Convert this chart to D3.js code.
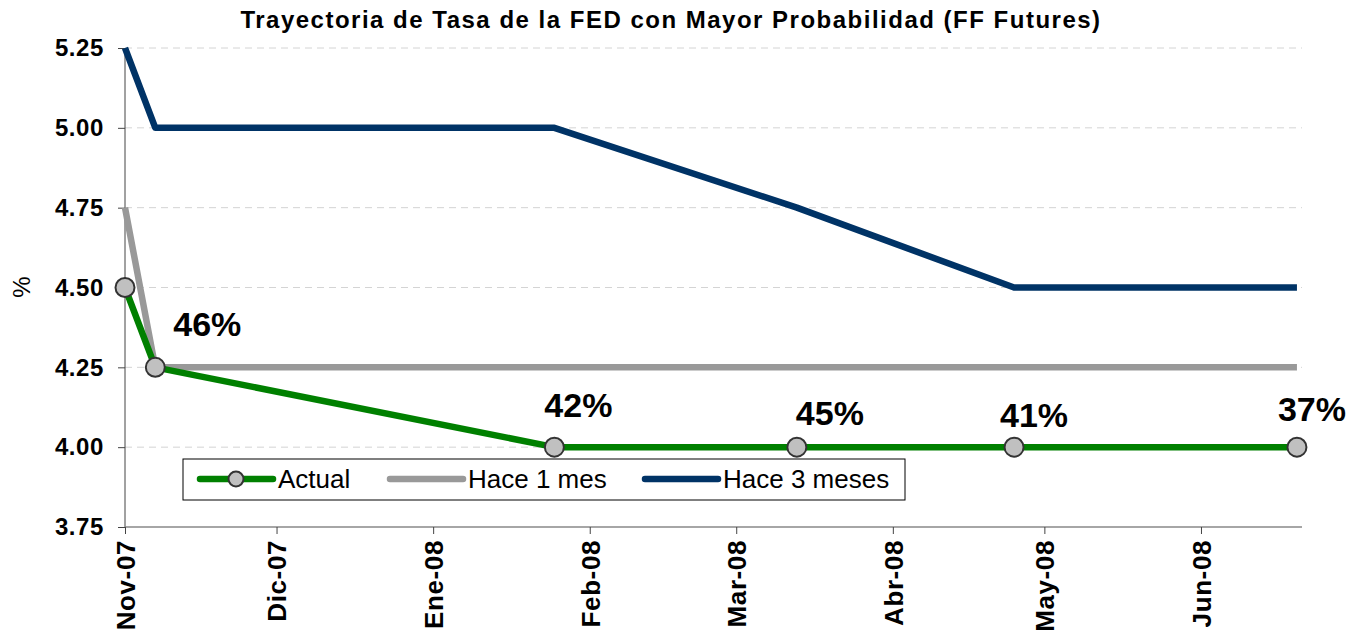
<!DOCTYPE html>
<html>
<head>
<meta charset="utf-8">
<script src="https://cdn.jsdelivr.net/npm/d3@7"></script>
<style>
  body { margin: 0; background: #fff; }
  svg { font-family: "Liberation Sans", Arial, sans-serif; }
</style>
</head>
<body>
<svg class="chart"></svg>
<script>
// fechas de las reuniones (estimadas del eje)
var fechas = ["2007-11-01", "2007-11-07", "2008-01-25", "2008-03-13", "2008-04-25", "2008-06-20"];
var actual = [4.50, 4.25, 4.00, 4.00, 4.00, 4.00];
var hace1mes = [4.75, 4.25, 4.25, 4.25, 4.25, 4.25];
var hace3meses = [5.25, 5.00, 5.00, 4.75, 4.50, 4.50];
var probabilidades = [null, "46%", "42%", "45%", "41%", "37%"];
var yTicks = [3.75, 4.00, 4.25, 4.50, 4.75, 5.00, 5.25];
var xTicks = ["2007-11-01", "2007-12-01", "2008-01-01", "2008-02-01", "2008-03-01", "2008-04-01", "2008-05-01", "2008-06-01"];
var meses = ["Nov-07", "Dic-07", "Ene-08", "Feb-08", "Mar-08", "Abr-08", "May-08", "Jun-08"];
var nombres = ["Actual", "Hace 1 mes", "Hace 3 meses"];

(function () {
    'use strict';

    var W = 1355, H = 639;
    var margin = {top: 48, right: 53, bottom: 112, left: 125},
        width = W - margin.left - margin.right,
        height = H - margin.top - margin.bottom;

    var parse = d3.timeParse("%Y-%m-%d");
    var dates = fechas.map(parse);

    var svg = d3.select(".chart").attr("width", W).attr("height", H);
    var chart = svg.append("g")
        .attr("transform", "translate(" + margin.left + "," + margin.top + ")");

    var x = d3.scaleTime()
        .domain([parse("2007-11-01"), parse("2008-06-21")])
        .range([0, width]);
    var y = d3.scaleLinear().domain([3.75, 5.25]).range([height, 0]);

    // title
    svg.append("text")
        .attr("x", 671).attr("y", 28)
        .attr("text-anchor", "middle")
        .style("font-size", "24px").style("font-weight", "bold")
        .style("letter-spacing", "1.5px")
        .text("Trayectoria de Tasa de la FED con Mayor Probabilidad (FF Futures)");

    // grid
    chart.append("g").selectAll("line")
        .data(yTicks.filter(function (d) { return d > 3.75; }))
        .enter().append("line")
        .attr("x1", 0).attr("x2", width)
        .attr("y1", function (d) { return y(d); })
        .attr("y2", function (d) { return y(d); })
        .attr("stroke", "#d4d4d4").attr("stroke-width", 1)
        .attr("stroke-dasharray", "7,5");

    // y axis
    var yAxis = chart.append("g")
        .call(d3.axisLeft(y).tickValues(yTicks).tickFormat(d3.format(".2f")).tickSize(7).tickPadding(14));
    yAxis.select(".domain").attr("stroke", "#444").attr("d", "M0,0V" + height);
    yAxis.selectAll(".tick line").attr("stroke", "#444");
    yAxis.selectAll("text")
        .style("font-size", "24px").style("font-weight", "bold")
        .style("letter-spacing", "0.6px").attr("fill", "#000");

    svg.append("text")
        .attr("transform", "translate(30,287) rotate(-90)")
        .attr("text-anchor", "middle")
        .style("font-size", "24px")
        .text("%");

    // x axis
    var xAxis = chart.append("g")
        .attr("transform", "translate(0," + height + ")")
        .call(d3.axisBottom(x).tickValues(xTicks.map(parse))
            .tickFormat(function (d, i) { return meses[i]; }).tickSize(7));
    xAxis.select(".domain").attr("stroke", "#888").attr("stroke-width", 1.5)
        .attr("d", "M0,0H" + width);
    xAxis.selectAll(".tick line").attr("stroke", "#444");
    xAxis.selectAll("text")
        .attr("transform", "rotate(-90)")
        .attr("x", -13).attr("y", 0).attr("dy", "0.36em")
        .attr("text-anchor", "end")
        .style("font-size", "26px").style("font-weight", "bold")
        .style("letter-spacing", "0.6px").attr("fill", "#000");

    var line = d3.line()
        .x(function (d, i) { return x(dates[i]); })
        .y(function (d) { return y(d); });

    var series = [
        {values: hace1mes, color: "#999999"},
        {values: hace3meses, color: "#003366"},
        {values: actual, color: "#008000"}
    ];

    chart.selectAll(".serie").data(series)
        .enter().append("path")
        .attr("class", "serie")
        .attr("d", function (d) { return line(d.values); })
        .attr("fill", "none")
        .attr("stroke", function (d) { return d.color; })
        .attr("stroke-width", 6.5)
        .attr("stroke-linejoin", "round");

    chart.selectAll(".marker").data(actual)
        .enter().append("circle")
        .attr("class", "marker")
        .attr("cx", function (d, i) { return x(dates[i]); })
        .attr("cy", function (d) { return y(d); })
        .attr("r", 9.5)
        .attr("fill", "#c0c0c0")
        .attr("stroke", "#333")
        .attr("stroke-width", 2);

    // etiquetas de probabilidad
    var labelDx = [0, 52, 24, 33, 20, 15];
    var labelDy = [0, -31, -30, -22, -20, -26];
    var probs = probabilidades.map(function (p, i) { return {p: p, i: i}; })
        .filter(function (d) { return d.p; });
    chart.selectAll(".prob").data(probs)
        .enter().append("text")
        .attr("class", "prob")
        .attr("x", function (d) { return x(dates[d.i]) + labelDx[d.i]; })
        .attr("y", function (d) { return y(actual[d.i]) + labelDy[d.i]; })
        .attr("text-anchor", "middle")
        .style("font-size", "34px").style("font-weight", "bold")
        .text(function (d) { return d.p; });

    // legend
    var legend = svg.append("g").attr("transform", "translate(183,459)");
    legend.append("rect")
        .attr("width", 722).attr("height", 41)
        .attr("fill", "#fff").attr("stroke", "#000").attr("stroke-width", 1);

    var legendPos = [17, 207, 462];
    var legendColors = ["#008000", "#999999", "#003366"];
    var items = legend.selectAll(".item").data(nombres)
        .enter().append("g")
        .attr("class", "item")
        .attr("transform", function (d, i) { return "translate(" + legendPos[i] + ",20)"; });
    items.append("line")
        .attr("x1", 0).attr("x2", 73)
        .attr("stroke", function (d, i) { return legendColors[i]; })
        .attr("stroke-width", 6.5).attr("stroke-linecap", "round");
    items.filter(function (d, i) { return i === 0; }).append("circle")
        .attr("cx", 36).attr("r", 7.5)
        .attr("fill", "#c0c0c0").attr("stroke", "#333").attr("stroke-width", 2);
    items.append("text")
        .attr("x", 78).attr("dy", "0.36em")
        .style("font-size", "26px")
        .text(function (d) { return d; });
})();
</script>
</body>
</html>
